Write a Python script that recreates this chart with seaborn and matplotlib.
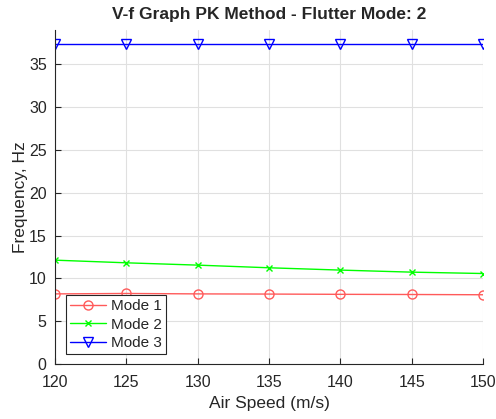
import matplotlib
matplotlib.use("Agg")
import matplotlib.pyplot as plt
import seaborn as sns
import pandas as pd

airspeed = [120, 125, 130, 135, 140, 145, 150]
mode1 = [8.2, 8.25, 8.2, 8.18, 8.15, 8.13, 8.1]
mode2 = [12.14, 11.83, 11.56, 11.25, 10.98, 10.74, 10.58]
mode3 = [37.33, 37.33, 37.33, 37.33, 37.33, 37.33, 37.33]
labels = ["Mode 1", "Mode 2", "Mode 3"]

sns.set_style("white")
plt.rcParams["font.family"] = ["Liberation Sans", "DejaVu Sans"]

fig = plt.figure(figsize=(4.96, 4.19), dpi=100)
ax = fig.add_axes([0.111, 0.131, 0.863, 0.797])

colors = ["#ff5a5a", "#00ff00", "#0000ff"]
markers = ["o", "x", "v"]
msizes = [6.5, 5, 6.5]
for name, vals, c, m, ms in zip(labels, [mode1, mode2, mode3], colors, markers, msizes):
    df = pd.DataFrame({"speed": airspeed, "freq": vals})
    sns.lineplot(data=df, x="speed", y="freq", ax=ax, color=c, label=name,
                 marker=m, markersize=ms, markeredgewidth=1.0,
                 markeredgecolor=c, markerfacecolor="none", linewidth=1.0)

ax.set_xlim(120, 150)
ax.set_ylim(0, 39)
ax.set_xticks(airspeed)
ax.set_yticks([0, 5, 10, 15, 20, 25, 30, 35])
ax.grid(True, color="#e0e0e0", linewidth=0.8)
for s in ["top", "right"]:
    ax.spines[s].set_visible(False)
for s in ["left", "bottom"]:
    ax.spines[s].set_color("#262626")
    ax.spines[s].set_linewidth(0.8)
ax.tick_params(axis="both", direction="in", length=4, width=0.8,
               colors="#262626", labelsize=11.5, labelcolor="#262626",
               bottom=True, left=True)
ax.tick_params(axis="x", pad=8)
ax.tick_params(axis="y", pad=6)

ax.set_xlabel("Air Speed (m/s)", fontsize=12.5, color="#262626", labelpad=4)
ax.set_ylabel("Frequency, Hz", fontsize=12.5, color="#262626", labelpad=1)
ax.set_title("V-f Graph PK Method - Flutter Mode: 2", fontsize=12.5,
             fontweight="bold", pad=8)

leg = ax.legend(loc="lower left", bbox_to_anchor=(0.025, 0.03),
                fontsize=11, frameon=True, fancybox=False, edgecolor="#262626",
                borderpad=0.25, labelspacing=0.3, handlelength=2.4,
                handletextpad=0.3, borderaxespad=0, framealpha=1)
leg.get_frame().set_linewidth(0.8)

fig.savefig("out.png", dpi=100)
